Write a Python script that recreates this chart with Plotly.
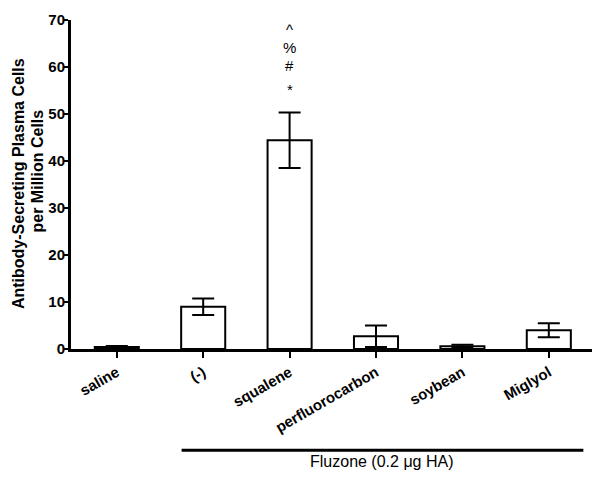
import plotly.graph_objects as go

# data
categories = ["saline", "(-)", "squalene", "perfluorocarbon", "soybean", "Miglyol"]
means = [0.4, 9.0, 44.4, 2.7, 0.6, 4.0]
sems = [0.25, 1.75, 5.9, 2.3, 0.3, 1.5]
y_ticks = [0, 10, 20, 30, 40, 50, 60, 70]
y_title_lines = ["Antibody-Secreting Plasma Cells", "per Million Cells"]
sig_marks = ["*", "#", "%", "^"]
sig_heights = [57.5, 62.6, 66.4, 70.3]

FONT = "Arial, Liberation Sans, sans-serif"
Y_MAX = 70

fig = go.Figure()
fig.add_trace(go.Bar(
    x=categories,
    y=means,
    width=0.51,
    marker=dict(color="white", line=dict(color="black", width=2)),
    error_y=dict(type="data", array=sems, visible=True, color="black", thickness=2, width=11),
    showlegend=False,
))

# significance marks above squalene (paper y so the top one is not culled)
for mark, h in zip(sig_marks, sig_heights):
    fig.add_annotation(x="squalene", xref="x", yref="paper", y=h / Y_MAX, text=mark,
                       showarrow=False, font=dict(family=FONT, size=15, color="black"))

# y title, one annotation per line so each can be placed
for line, xp, yp in zip(y_title_lines, [-0.102, -0.065], [0.504, 0.54]):
    fig.add_annotation(xref="paper", yref="paper", x=xp, y=yp, textangle=-90, text=line,
                       showarrow=False, xanchor="center", yanchor="middle",
                       font=dict(family=FONT, size=16, color="black", weight="bold"))

# bracket line for the Fluzone groups
fig.add_shape(type="line", xref="x", yref="paper", x0=0.75, x1=5.4, y0=-0.308, y1=-0.308,
              line=dict(color="black", width=3))
fig.add_annotation(xref="x", yref="paper", x=3.07, y=-0.375, text="Fluzone (0.2 \u03bcg HA)",
                   showarrow=False, font=dict(family=FONT, size=16, color="black"))

# page body has an 8px margin, so the figure is 8px smaller and shifted
fig.update_layout(
    width=592,
    height=482,
    paper_bgcolor="white",
    plot_bgcolor="white",
    margin=dict(l=63, r=8, t=12, b=141),
    font=dict(family=FONT, color="black"),
)
fig.update_xaxes(
    range=[-0.53, 5.5],
    automargin=False,
    showline=True, linecolor="black", linewidth=3,
    ticks="outside", ticklen=6, tickwidth=2, tickcolor="black",
    tickangle=-30,
    tickfont=dict(family=FONT, size=15, color="black", weight="bold"),
    showgrid=False,
)
fig.update_yaxes(
    range=[0, Y_MAX],
    automargin=False,
    tickvals=y_ticks,
    showline=True, linecolor="black", linewidth=3,
    ticks="outside", ticklen=5, tickwidth=2, tickcolor="black",
    ticklabelstandoff=-5,
    tickfont=dict(family=FONT, size=15, color="black", weight="bold"),
    showgrid=False, zeroline=False,
)

fig.write_html("out.html")
